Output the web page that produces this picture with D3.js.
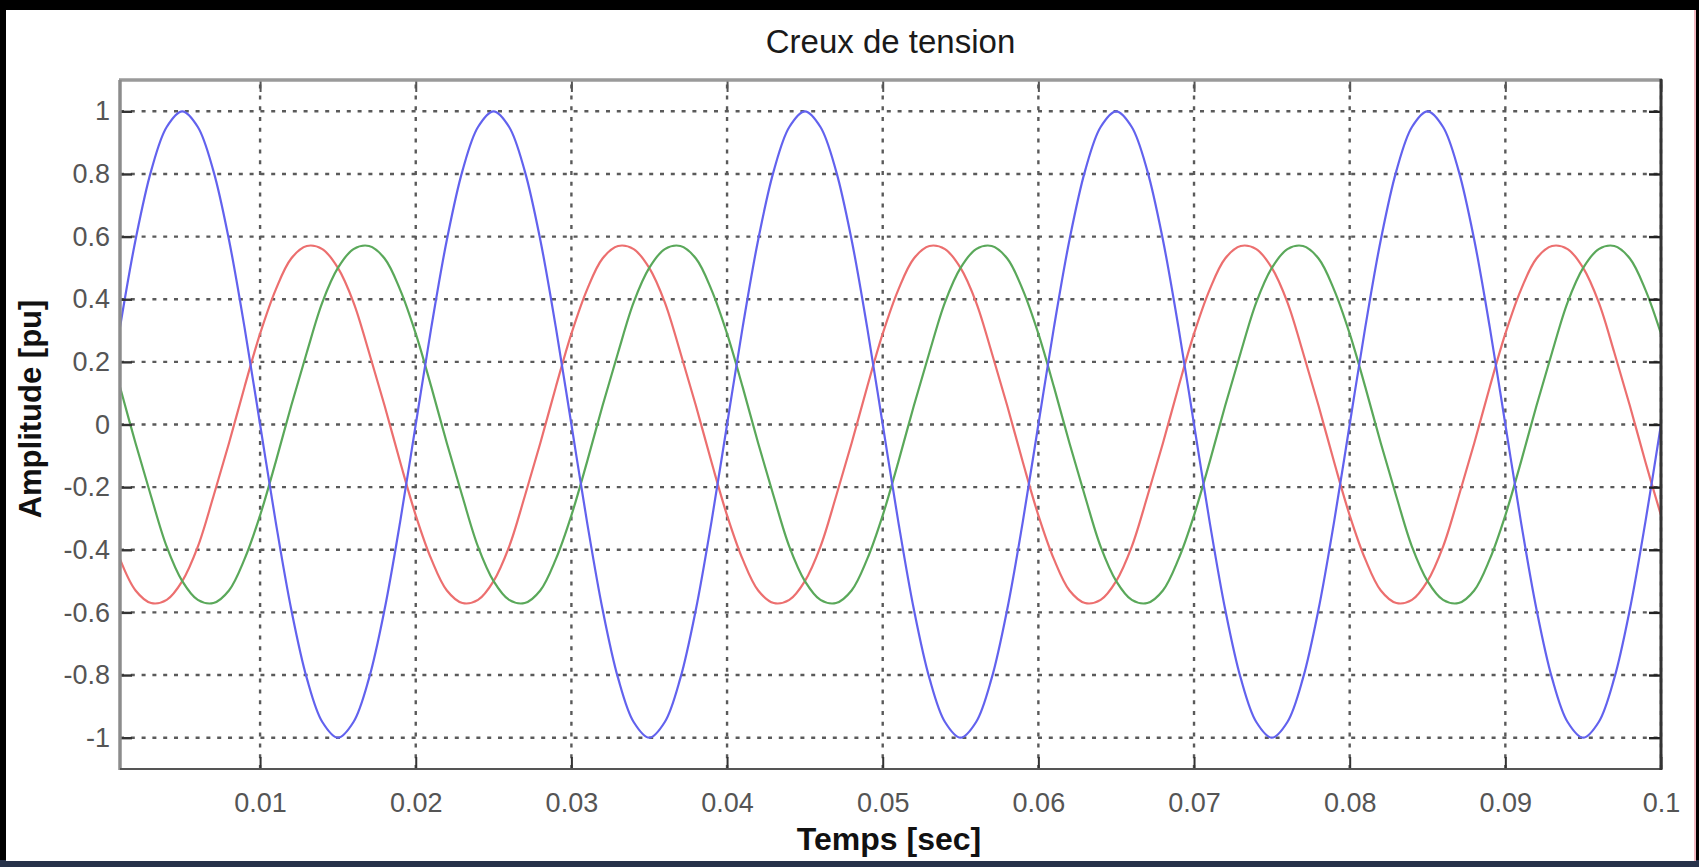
<!DOCTYPE html>
<html><head><meta charset="utf-8">
<script src="https://cdn.jsdelivr.net/npm/d3@7"></script>
<style>html,body{margin:0;padding:0;background:#000;overflow:hidden}</style>
</head><body>
<svg id="chart" width="1699" height="867"></svg>
<script>
// ---- data ----
const time = [
0.001,0.002,0.003,0.004,0.005,0.006,0.007,0.008,0.009,0.010,
0.011,0.012,0.013,0.014,0.015,0.016,0.017,0.018,0.019,0.020,
0.021,0.022,0.023,0.024,0.025,0.026,0.027,0.028,0.029,0.030,
0.031,0.032,0.033,0.034,0.035,0.036,0.037,0.038,0.039,0.040,
0.041,0.042,0.043,0.044,0.045,0.046,0.047,0.048,0.049,0.050,
0.051,0.052,0.053,0.054,0.055,0.056,0.057,0.058,0.059,0.060,
0.061,0.062,0.063,0.064,0.065,0.066,0.067,0.068,0.069,0.070,
0.071,0.072,0.073,0.074,0.075,0.076,0.077,0.078,0.079,0.080,
0.081,0.082,0.083,0.084,0.085,0.086,0.087,0.088,0.089,0.090,
0.091,0.092,0.093,0.094,0.095,0.096,0.097,0.098,0.099,0.100];

const phaseBlue = [
0.31,0.59,0.81,0.95,1,0.95,0.81,0.59,0.31,0,-0.31,-0.59,-0.81,-0.95,-1,-0.95,-0.81,-0.59,-0.31,0,
0.31,0.59,0.81,0.95,1,0.95,0.81,0.59,0.31,0,-0.31,-0.59,-0.81,-0.95,-1,-0.95,-0.81,-0.59,-0.31,0,
0.31,0.59,0.81,0.95,1,0.95,0.81,0.59,0.31,0,-0.31,-0.59,-0.81,-0.95,-1,-0.95,-0.81,-0.59,-0.31,0,
0.31,0.59,0.81,0.95,1,0.95,0.81,0.59,0.31,0,-0.31,-0.59,-0.81,-0.95,-1,-0.95,-0.81,-0.59,-0.31,0,
0.31,0.59,0.81,0.95,1,0.95,0.81,0.59,0.31,0,-0.31,-0.59,-0.81,-0.95,-1,-0.95,-0.81,-0.59,-0.31,0];

const phaseRed = [
-0.43,-0.53,-0.57,-0.56,-0.50,-0.39,-0.23,-0.06,0.12,0.29,0.43,0.53,0.57,0.56,0.50,0.39,0.23,0.06,-0.12,-0.29,
-0.43,-0.53,-0.57,-0.56,-0.50,-0.39,-0.23,-0.06,0.12,0.29,0.43,0.53,0.57,0.56,0.50,0.39,0.23,0.06,-0.12,-0.29,
-0.43,-0.53,-0.57,-0.56,-0.50,-0.39,-0.23,-0.06,0.12,0.29,0.43,0.53,0.57,0.56,0.50,0.39,0.23,0.06,-0.12,-0.29,
-0.43,-0.53,-0.57,-0.56,-0.50,-0.39,-0.23,-0.06,0.12,0.29,0.43,0.53,0.57,0.56,0.50,0.39,0.23,0.06,-0.12,-0.29,
-0.43,-0.53,-0.57,-0.56,-0.50,-0.39,-0.23,-0.06,0.12,0.29,0.43,0.53,0.57,0.56,0.50,0.39,0.23,0.06,-0.12,-0.29];

const phaseGreen = [
0.12,-0.06,-0.23,-0.39,-0.50,-0.56,-0.57,-0.53,-0.43,-0.29,-0.12,0.06,0.23,0.39,0.50,0.56,0.57,0.53,0.43,0.29,
0.12,-0.06,-0.23,-0.39,-0.50,-0.56,-0.57,-0.53,-0.43,-0.29,-0.12,0.06,0.23,0.39,0.50,0.56,0.57,0.53,0.43,0.29,
0.12,-0.06,-0.23,-0.39,-0.50,-0.56,-0.57,-0.53,-0.43,-0.29,-0.12,0.06,0.23,0.39,0.50,0.56,0.57,0.53,0.43,0.29,
0.12,-0.06,-0.23,-0.39,-0.50,-0.56,-0.57,-0.53,-0.43,-0.29,-0.12,0.06,0.23,0.39,0.50,0.56,0.57,0.53,0.43,0.29,
0.12,-0.06,-0.23,-0.39,-0.50,-0.56,-0.57,-0.53,-0.43,-0.29,-0.12,0.06,0.23,0.39,0.50,0.56,0.57,0.53,0.43,0.29];

const xTicks = [0.01,0.02,0.03,0.04,0.05,0.06,0.07,0.08,0.09,0.1];
const xTickLabels = ["0.01","0.02","0.03","0.04","0.05","0.06","0.07","0.08","0.09","0.1"];
const yTicks = [-1,-0.8,-0.6,-0.4,-0.2,0,0.2,0.4,0.6,0.8,1];
const yTickLabels = ["-1","-0.8","-0.6","-0.4","-0.2","0","0.2","0.4","0.6","0.8","1"];
const xDomain = [0.001, 0.1];
const yDomain = [-1.1, 1.1];
const titleText = "Creux de tension";
const xLabelText = "Temps [sec]";
const yLabelText = "Amplitude [pu]";

// ---- drawing ----
const FONT = "'Liberation Sans', Arial, Helvetica, sans-serif";
const svg = d3.select("#chart");
const L = 120, R = 1661, T = 80, B = 769;

// frame / background
svg.append("rect").attr("x",0).attr("y",0).attr("width",1699).attr("height",867).attr("fill","#000");
svg.append("rect").attr("x",0).attr("y",860).attr("width",1699).attr("height",7).attr("fill","#27324a");
svg.append("rect").attr("x",6).attr("y",10).attr("width",1689).attr("height",851).attr("fill","#ffffff");
svg.append("rect").attr("x",1694).attr("y",10).attr("width",2).attr("height",851).attr("fill","#f2b8c0");

const x = d3.scaleLinear().domain(xDomain).range([L, R]);
const y = d3.scaleLinear().domain(yDomain).range([B, T]);

// grid
const grid = svg.append("g").attr("stroke","#5a5a5a").attr("stroke-width",2.4).attr("stroke-dasharray","4,6.8");
grid.selectAll("line.v").data(xTicks).join("line").attr("class","v")
  .attr("x1",d=>x(d)).attr("x2",d=>x(d)).attr("y1",B).attr("y2",T);
grid.selectAll("line.h").data(yTicks).join("line").attr("class","h")
  .attr("x1",L).attr("x2",R).attr("y1",d=>y(d)).attr("y2",d=>y(d));

// curves
svg.append("clipPath").attr("id","clip").append("rect")
  .attr("x",L).attr("y",T).attr("width",R-L).attr("height",B-T);
const line = d3.line().x((d,i)=>x(time[i])).y(d=>y(d)).curve(d3.curveCatmullRom.alpha(0.5));
const series = [
  {values: phaseRed, color: "#ec6f6f"},
  {values: phaseGreen, color: "#5aa85a"},
  {values: phaseBlue, color: "#6262ee"}
];
svg.append("g").attr("clip-path","url(#clip)").selectAll("path").data(series).join("path")
  .attr("d",d=>line(d.values)).attr("fill","none").attr("stroke",d=>d.color)
  .attr("stroke-width",2.2).attr("stroke-linejoin","round");

// axes with inner ticks
const tickLen = 12;
const styleAxis = (g, col, w) => {
  g.select(".domain").remove();
  g.selectAll(".tick line").attr("stroke",col).attr("stroke-width",w);
  g.selectAll(".tick text").attr("font-family",FONT).attr("font-size",27).attr("fill","#555");
};
const gxB = svg.append("g").attr("transform",`translate(0,${B})`)
  .call(d3.axisBottom(x).tickValues(xTicks).tickFormat((d,i)=>xTickLabels[i]).tickSize(-tickLen).tickPadding(24));
styleAxis(gxB,"#333",2);
gxB.selectAll(".tick text").attr("dy","0.71em");
const gxT = svg.append("g").attr("transform",`translate(0,${T})`)
  .call(d3.axisTop(x).tickValues(xTicks).tickFormat("").tickSize(-tickLen));
styleAxis(gxT,"#555",2);
const gyL = svg.append("g").attr("transform",`translate(${L},0)`)
  .call(d3.axisLeft(y).tickValues(yTicks).tickFormat((d,i)=>yTickLabels[i]).tickSize(-tickLen).tickPadding(10));
styleAxis(gyL,"#333",2.4);
const gyR = svg.append("g").attr("transform",`translate(${R},0)`)
  .call(d3.axisRight(y).tickValues(yTicks).tickFormat("").tickSize(-tickLen));
styleAxis(gyR,"#222",2.4);

// box
svg.append("line").attr("x1",L-1).attr("x2",R+1).attr("y1",T).attr("y2",T).attr("stroke","#9a9a9a").attr("stroke-width",3.5);
svg.append("line").attr("x1",L).attr("x2",L).attr("y1",T).attr("y2",B+1).attr("stroke","#8c8c8c").attr("stroke-width",3.5);
svg.append("line").attr("x1",L).attr("x2",R+1).attr("y1",B).attr("y2",B).attr("stroke","#555").attr("stroke-width",2.2);
svg.append("line").attr("x1",R).attr("x2",R).attr("y1",T-1).attr("y2",B+1).attr("stroke","#333").attr("stroke-width",3);

// title and labels
svg.append("text").attr("x",(L+R)/2).attr("y",53).attr("text-anchor","middle")
  .attr("font-family",FONT).attr("font-size",33).attr("fill","#1a1a1a").text(titleText);
svg.append("text").attr("x",889).attr("y",850).attr("text-anchor","middle")
  .attr("font-family",FONT).attr("font-size",32).attr("font-weight","bold").attr("fill","#111").text(xLabelText);
svg.append("text").attr("transform","translate(41,409) rotate(-90)").attr("text-anchor","middle")
  .attr("font-family",FONT).attr("font-size",31).attr("font-weight","bold").attr("fill","#111").text(yLabelText);
</script>
</body></html>
